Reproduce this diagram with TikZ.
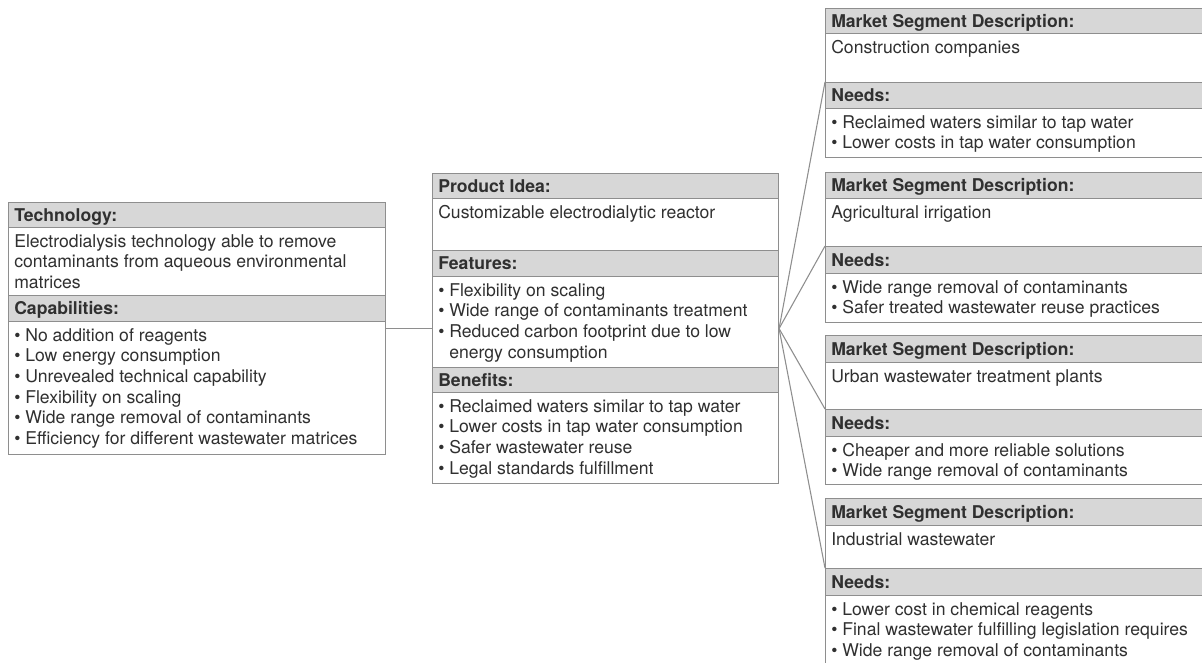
\documentclass[tikz,border=0pt]{standalone}
\usepackage{fontspec}
\setmainfont{TeX Gyre Heros}
\usetikzlibrary{positioning, calc}

\newlength\pxu
\setlength\pxu{0.75pt}
\definecolor{framegray}{HTML}{8E8E8E}
\definecolor{headgray}{HTML}{D7D7D7}
\definecolor{inkgray}{HTML}{303030}
\newcommand\bul{\textbullet\ }
\newcommand\ind{\phantom{\textbullet\ }}

\tikzset{
  box/.style 2 args={draw=framegray, line width=0.8pt, anchor=north west, inner sep=0pt,
    minimum width=#1\pxu, minimum height=#2\pxu},
  hdr/.style 2 args={box={#1}{#2}, fill=headgray},
  hdrtext/.style={anchor=base west, inner sep=0pt, text=inkgray,
    font=\fontsize{13.2pt}{15.5pt}\selectfont\bfseries},
  bodytext/.style={anchor=base west, inner sep=0pt, text=inkgray,
    font=\fontsize{13.2pt}{15.5pt}\selectfont},
  link/.style={draw=framegray, line width=0.8pt}
}

% header row and body row of a panel
\newcommand\headrow[5]{%
  \node[hdr={#3}{#4}] (#1) at (#2) {};
  \node[hdrtext] (#1-t) at ($(#1.west)+(6,6)$) {#5};}
\newcommand\bodyrow[5]{%
  \node[box={#3}{#4}] (#1) at (#2) {};
  \node[bodytext] (#1-t) at ($(#1.north west)+(6,20)$)
    {\begin{tabular}[t]{@{}l@{}}#5\end{tabular}};}

\begin{document}
\begin{tikzpicture}[x=\pxu, y=-\pxu]
  \clip (0,0) rectangle (1202,662);
  \fill[white] (0,0) rectangle (1202,662);

  % technology
  \node[box={377}{252}] (tech) at (8,202) {};
  \headrow{tech-h}{8,202}{377}{25}{Technology:}
  \bodyrow{tech-b}{8,227}{377}{68}{Electrodialysis technology able to remove\\
    contaminants from aqueous environmental\\ matrices}
  \headrow{cap-h}{8,295}{377}{26}{Capabilities:}
  \bodyrow{cap-b}{8,321}{377}{133}{\bul No addition of reagents\\
    \bul Low energy consumption\\ \bul Unrevealed technical capability\\
    \bul Flexibility on scaling\\ \bul Wide range removal of contaminants\\
    \bul Efficiency for different wastewater matrices}

  % product idea
  \node[box={346}{310}] (idea) at (432,173) {};
  \headrow{idea-h}{432,173}{346}{25}{Product Idea:}
  \bodyrow{idea-b}{432,198}{346}{52}{Customizable electrodialytic reactor}
  \headrow{feat-h}{432,250}{346}{26}{Features:}
  \bodyrow{feat-b}{432,276}{346}{91}{\bul Flexibility on scaling\\
    \bul Wide range of contaminants treatment\\
    \bul Reduced carbon footprint due to low\\ \ind energy consumption}
  \headrow{ben-h}{432,367}{346}{25}{Benefits:}
  \bodyrow{ben-b}{432,392}{346}{91}{\bul Reclaimed waters similar to tap water\\
    \bul Lower costs in tap water consumption\\ \bul Safer wastewater reuse\\
    \bul Legal standards fulfillment}

  % market segments
  \headrow{seg1-h}{825,8}{390}{25}{Market Segment Description:}
  \bodyrow{seg1-b}{825,33}{390}{49}{Construction companies}
  \headrow{seg1-nh}{825,82}{390}{26}{Needs:}
  \bodyrow{seg1-nb}{825,108}{390}{49}{\bul Reclaimed waters similar to tap water\\
    \bul Lower costs in tap water consumption}

  \headrow{seg2-h}{825,172}{390}{26}{Market Segment Description:}
  \bodyrow{seg2-b}{825,198}{390}{48}{Agricultural irrigation}
  \headrow{seg2-nh}{825,246}{390}{27}{Needs:}
  \bodyrow{seg2-nb}{825,273}{390}{49}{\bul Wide range removal of contaminants\\
    \bul Safer treated wastewater reuse practices}

  \headrow{seg3-h}{825,335}{390}{27}{Market Segment Description:}
  \bodyrow{seg3-b}{825,362}{390}{47}{Urban wastewater treatment plants}
  \headrow{seg3-nh}{825,409}{390}{27}{Needs:}
  \bodyrow{seg3-nb}{825,436}{390}{48}{\bul Cheaper and more reliable solutions\\
    \bul Wide range removal of contaminants}

  \headrow{seg4-h}{825,498}{390}{27}{Market Segment Description:}
  \bodyrow{seg4-b}{825,525}{390}{43}{Industrial wastewater}
  \headrow{seg4-nh}{825,568}{390}{27}{Needs:}
  \bodyrow{seg4-nb}{825,595}{390}{80}{\bul Lower cost in chemical reagents\\
    \bul Final wastewater fulfilling legislation requires\\
    \bul Wide range removal of contaminants}

  % connectors
  \draw[link] (tech.east) -- (idea.west);
  \foreach \s in {1,...,4}
    \draw[link] (idea.east) -- (seg\s-nh.north west);
\end{tikzpicture}
\end{document}
